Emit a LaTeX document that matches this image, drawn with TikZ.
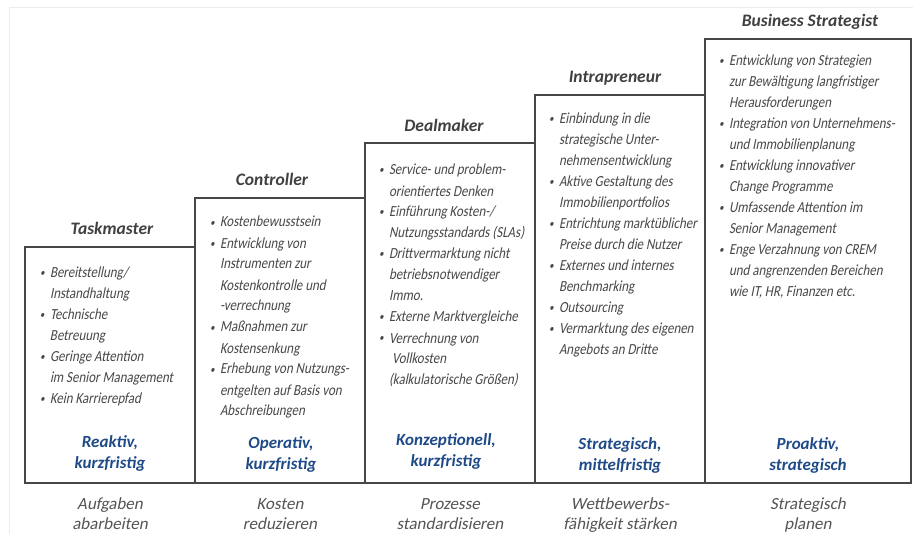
\documentclass[tikz,border=0pt]{standalone}
\usepackage{fontspec}
\setmainfont{Carlito}
% narrow slanted face for the item lists, slanted face for the goals
\newfontfamily\condfont[FakeStretch=0.84, FakeSlant=0.2]{Carlito}
\newfontfamily\slantfont[FakeSlant=0.2]{Carlito}
\definecolor{boxline}{HTML}{474747}
\definecolor{titleink}{HTML}{404040}
\definecolor{bodyink}{HTML}{484848}
\definecolor{goalink}{HTML}{555555}
\definecolor{verdictblue}{HTML}{1E4A88}
\definecolor{framegray}{HTML}{ECECEC}
% bullet and hanging indent for the item lists
\newcommand\bul{\makebox[11pt][l]{\hspace{1pt}\raisebox{1pt}{\fontsize{11}{11}\selectfont\textbullet}}}
\newcommand\cont{\hspace*{11pt}}
\tikzset{
  stage/.style={draw=boxline, line width=2.4pt, rectangle, inner sep=0pt, outer sep=0pt, anchor=north west},
  title/.style={font=\bfseries\itshape\fontsize{17.5}{21}\selectfont, text=titleink, inner sep=0pt, anchor=base},
  items/.style={font=\condfont\fontsize{15.4}{21}\selectfont, text=bodyink, align=left, inner sep=0pt, outer sep=0pt, anchor=north west},
  verdict/.style={font=\bfseries\itshape\fontsize{17}{21}\selectfont, text=verdictblue, align=center, inner sep=0pt, anchor=north},
  goal/.style={font=\slantfont\fontsize{17}{20}\selectfont, text=goalink, align=center, inner sep=0pt, anchor=north},
}
\begin{document}
\begin{tikzpicture}[x=1pt,y=-1pt]
\useasboundingbox (0,0) rectangle (913,534);
\fill[white] (0,0) rectangle (913,534);
\draw[framegray, line width=1pt] (9,534) -- (9,8) -- (913,8);

% the five stages of the staircase
\node[stage, minimum width=170pt, minimum height=236pt] (b1) at (25,247) {};
\node[stage, minimum width=170pt, minimum height=285pt] (b2) at (195,198) {};
\node[stage, minimum width=170pt, minimum height=340pt] (b3) at (365,143) {};
\node[stage, minimum width=170pt, minimum height=388pt] (b4) at (535,95) {};
\node[stage, minimum width=206pt, minimum height=444pt] (b5) at (705,39) {};

% role names
\node[title] (t1) at (112,235) {Taskmaster};
\node[title] (t2) at (272,186) {Controller};
\node[title] (t3) at (444,132) {Dealmaker};
\node[title] (t4) at (615,83) {Intrapreneur};
\node[title] (t5) at (810,27) {Business Strategist};

% task lists
\node[items] (l1) at (39,278-14.7) {\strut\bul Bereitstellung/\\
\cont Instandhaltung\\
\bul Technische\\
\cont Betreuung\\
\bul Geringe Attention\\
\cont im Senior Management\\
\bul Kein Karrierepfad};

\node[items] (l2) at (209,227-14.7) {\strut\bul Kostenbewusstsein\\
\bul Entwicklung von\\
\cont Instrumenten zur\\
\cont Kostenkontrolle und\\
\cont -verrechnung\\
\bul Maßnahmen zur\\
\cont Kostensenkung\\
\bul Erhebung von Nutzungs-\\
\cont entgelten auf Basis von\\
\cont Abschreibungen};

\node[items] (l3) at (378,175-14.7) {\strut\bul Service- und problem-\\
\cont orientiertes Denken\\
\bul Einführung Kosten-/\\
\cont Nutzungsstandards (SLAs)\\
\bul Drittvermarktung nicht\\
\cont betriebsnotwendiger\\
\cont Immo.\\
\bul Externe Marktvergleiche\\
\bul Verrechnung von\\
\cont\hspace*{3pt}Vollkosten\\
\cont (kalkulatorische Größen)};

\node[items] (l4) at (548,124-14.7) {\strut\bul Einbindung in die\\
\cont strategische Unter-\\
\cont nehmensentwicklung\\
\bul Aktive Gestaltung des\\
\cont Immobilienportfolios\\
\bul Entrichtung marktüblicher\\
\cont Preise durch die Nutzer\\
\bul Externes und internes\\
\cont Benchmarking\\
\bul Outsourcing\\
\bul Vermarktung des eigenen\\
\cont Angebots an Dritte};

\node[items] (l5) at (718,66-14.7) {\strut\bul Entwicklung von Strategien\\
\cont zur Bewältigung langfristiger\\
\cont Herausforderungen\\
\bul Integration von Unternehmens-\\
\cont und Immobilienplanung\\
\bul Entwicklung innovativer\\
\cont Change Programme\\
\bul Umfassende Attention im\\
\cont Senior Management\\
\bul Enge Verzahnung von CREM\\
\cont und angrenzenden Bereichen\\
\cont wie IT, HR, Finanzen etc.};

% orientation of each stage
\node[verdict] (v1) at (110,447-14.7) {\strut Reaktiv,\\kurzfristig};
\node[verdict] (v2) at (281,448-14.7) {\strut Operativ,\\kurzfristig};
\node[verdict] (v3) at (446,445-14.7) {\strut Konzeptionell,\\kurzfristig};
\node[verdict] (v4) at (620,449-14.7) {\strut Strategisch,\\mittelfristig};
\node[verdict] (v5) at (808,449-14.7) {\strut Proaktiv,\\strategisch};

% goals below the staircase
\node[goal] (g1) at (110,509-14) {\strut Aufgaben\\abarbeiten};
\node[goal] (g2) at (280,509-14) {\strut Kosten\\reduzieren};
\node[goal] (g3) at (450,509-14) {\strut Prozesse\\standardisieren};
\node[goal] (g4) at (620,509-14) {\strut Wettbewerbs-\\fähigkeit stärken};
\node[goal] (g5) at (808,509-14) {\strut Strategisch\\planen};
\end{tikzpicture}
\end{document}
